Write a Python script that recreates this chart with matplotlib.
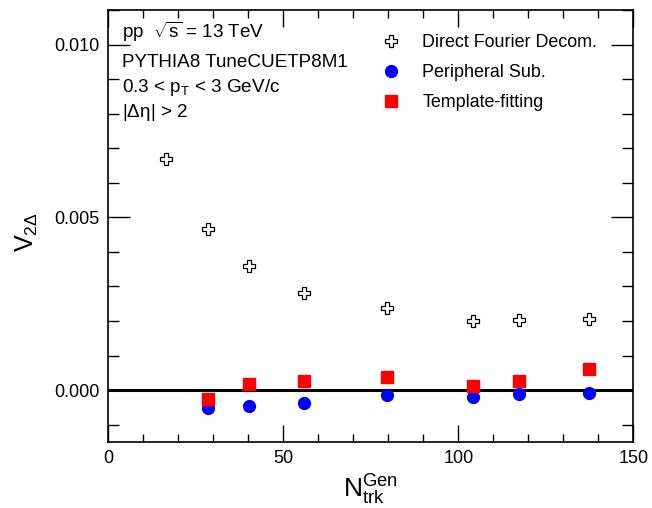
import matplotlib
matplotlib.use("Agg")
import matplotlib.pyplot as plt
from matplotlib.ticker import MultipleLocator, FormatStrFormatter

plt.rcParams['font.family'] = ['Liberation Sans', 'DejaVu Sans']
plt.rcParams['mathtext.fontset'] = 'custom'
plt.rcParams['mathtext.rm'] = 'Liberation Sans'
plt.rcParams['mathtext.it'] = 'Liberation Sans'
plt.rcParams['mathtext.bf'] = 'Liberation Sans:bold'
plt.rcParams['mathtext.default'] = 'regular'

# Data
nch_dfd = [16.4, 28.4, 40.2, 55.9, 79.6, 104.3, 117.3, 137.3]
v2_dfd = [0.00669, 0.00465, 0.00359, 0.00281, 0.00237, 0.00199, 0.00204, 0.00205]

nch_sub = [28.4, 40.2, 55.9, 79.6, 104.3, 117.3, 137.3]
v2_periph = [-0.00051, -0.00047, -0.00036, -0.00013, -0.00020, -0.00011, -0.00009]
v2_templ = [-0.00026, 0.00019, 0.00027, 0.00038, 0.00011, 0.00026, 0.00062]
v2_templ_err = [0.00003, 0.00003, 0.00003, 0.00003, 0.00003, 0.00003, 0.00013]

labels = ["Direct Fourier Decom.", "Peripheral Sub.", "Template-fitting"]

fig = plt.figure(figsize=(6.52, 5.08), dpi=100)
ax = fig.add_axes([108.3/652, 1-442/508, (633.3-108.3)/652, (442-10)/508])

ax.axhline(0.0, color='black', lw=2.2, zorder=1)

h1, = ax.plot(nch_dfd, v2_dfd, linestyle='none', marker='P', markersize=9,
              markerfacecolor='white', markeredgecolor='black', markeredgewidth=0.9,
              label=labels[0], zorder=3)
h2, = ax.plot(nch_sub, v2_periph, linestyle='none', marker='o', markersize=8.5,
              color='#0000ff', label=labels[1], zorder=3)
ax.errorbar(nch_sub, v2_templ, yerr=v2_templ_err, linestyle='none', color='#ff0000',
            elinewidth=1.2, capsize=0, zorder=2)
h3, = ax.plot(nch_sub, v2_templ, linestyle='none', marker='s', markersize=8,
              color='#ff0000', label=labels[2], zorder=3)

ax.set_xlim(0, 150)
ax.set_ylim(-0.0015, 0.011)
ax.xaxis.set_major_locator(MultipleLocator(50))
ax.xaxis.set_minor_locator(MultipleLocator(10))
ax.yaxis.set_major_locator(MultipleLocator(0.005))
ax.yaxis.set_minor_locator(MultipleLocator(0.001))
ax.yaxis.set_major_formatter(FormatStrFormatter('%.3f'))
ax.tick_params(which='both', direction='in', top=True, right=True, labelsize=13, width=1)
ax.tick_params(axis='y', which='major', length=16, pad=6)
ax.tick_params(axis='y', which='minor', length=8)
ax.tick_params(axis='x', which='major', length=12, pad=6)
ax.tick_params(axis='x', which='minor', length=6)
for s in ax.spines.values():
    s.set_linewidth(1.2)

ax.set_xlabel(r'$N_{trk}^{Gen}$', fontsize=19, labelpad=4)
ax.set_ylabel(r'$V_{2\Delta}$', fontsize=18)
ax.yaxis.set_label_coords(-0.131, 0.486)

fs = 13.6
x0 = 122/652
fig.text(x0, 1-38/508, r'pp  $\sqrt{s}$ = 13 TeV', fontsize=fs, va='baseline', ha='left')
fig.text(x0, 1-67/508, 'PYTHIA8 TuneCUETP8M1', fontsize=fs, va='baseline', ha='left')
fig.text(x0, 1-92/508, r'0.3 < p$_{T}$ < 3 GeV/c', fontsize=fs, va='baseline', ha='left')
fig.text(x0, 1-117/508, r'|$\Delta\eta$| > 2', fontsize=fs, va='baseline', ha='left')

leg = ax.legend(handles=[h1, h2, h3], loc='upper left', frameon=False, fontsize=12.9,
                bbox_to_anchor=(373/652, 1-27/508), bbox_transform=fig.transFigure,
                handlelength=1.2, handletextpad=1.15, labelspacing=0.72, borderaxespad=0)

fig.savefig('out.png', dpi=100)
